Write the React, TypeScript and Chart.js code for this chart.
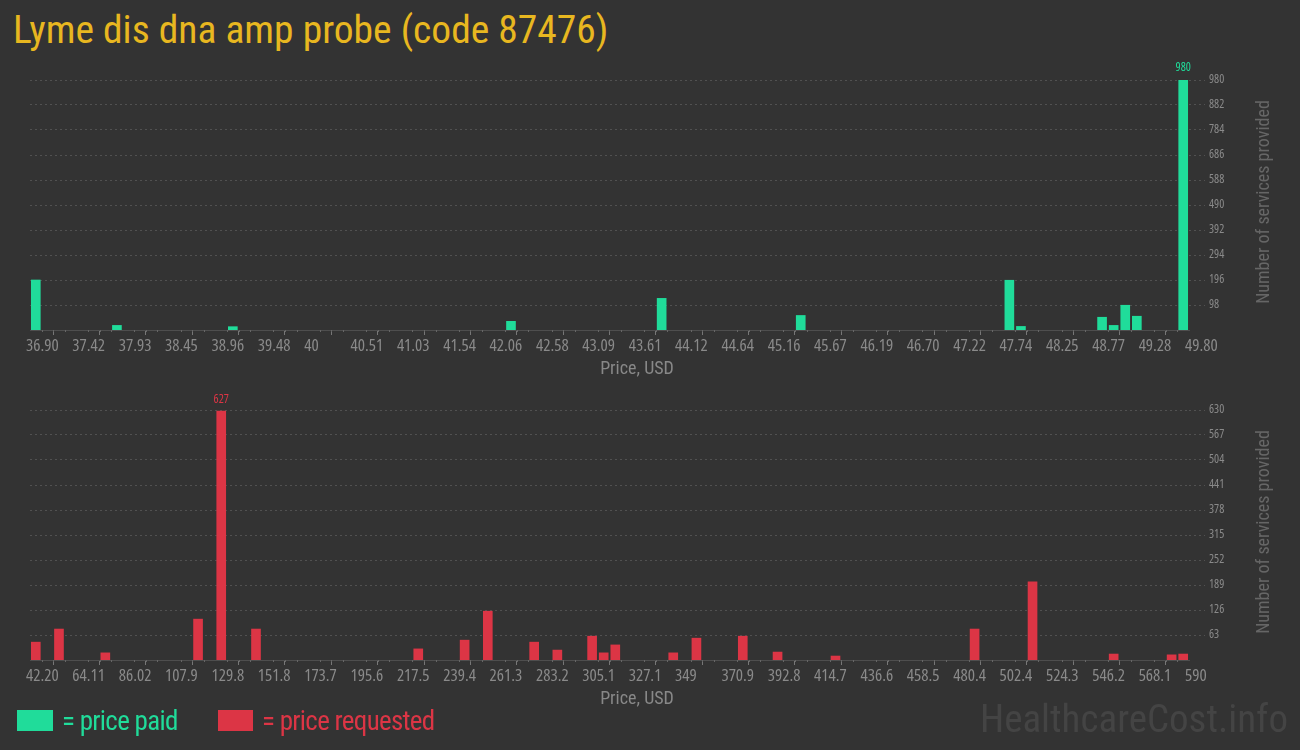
import React, { useEffect, useRef } from "react";
import { Chart, registerables } from "chart.js";
Chart.register(...registerables);

// ---- data ----
const BINS = 100; // each labelled interval holds 4 bins

const paidTickLabels = [
  "36.90", "37.42", "37.93", "38.45", "38.96", "39.48", "40", "40.51", "41.03", "41.54",
  "42.06", "42.58", "43.09", "43.61", "44.12", "44.64", "45.16", "45.67", "46.19", "46.70",
  "47.22", "47.74", "48.25", "48.77", "49.28", "49.80",
];
const paidRange = [36.9, 49.8];
const paidBinIndex = [0, 7, 17, 41, 54, 66, 84, 85, 92, 93, 94, 95, 99];
const paidCounts = [196, 18, 13, 34, 124, 57, 195, 14, 50, 18, 97, 54, 980];
const paidYTicks = [98, 196, 294, 392, 490, 588, 686, 784, 882, 980];

const requestedTickLabels = [
  "42.20", "64.11", "86.02", "107.9", "129.8", "151.8", "173.7", "195.6", "217.5", "239.4",
  "261.3", "283.2", "305.1", "327.1", "349", "370.9", "392.8", "414.7", "436.6", "458.5",
  "480.4", "502.4", "524.3", "546.2", "568.1", "590",
];
const requestedRange = [42.2, 590];
const requestedBinIndex = [0, 2, 6, 14, 16, 19, 33, 37, 39, 43, 45, 48, 49, 50, 55, 57, 61, 64, 69, 81, 86, 93, 98, 99];
const requestedCounts = [45, 78, 18, 103, 627, 78, 28, 50, 123, 45, 25, 60, 18, 38, 18, 55, 60, 20, 10, 78, 197, 15, 13, 15];
const requestedYTicks = [63, 126, 189, 252, 315, 378, 441, 504, 567, 630];

const GREEN = "#20dc9a";
const RED = "#dc3545";
const BG = "#333333";
const TICK_COLOR = "#8a8a8a";
const NARROW = "'Open Sans'";

const minorTicksPlugin = {
  id: "minorTicks",
  afterDraw(chart: any) {
    const xs = chart.scales.x;
    const ctx = chart.ctx;
    const min = xs.min;
    const bw = (xs.max - xs.min) / BINS;
    const bottom = chart.chartArea.bottom;
    ctx.save();
    ctx.strokeStyle = "#666";
    ctx.lineWidth = 1;
    for (let k = 1; k < BINS; k++) {
      if (k % 4 === 0) continue;
      const x = Math.round(xs.getPixelForValue(min + k * bw)) + 0.5;
      ctx.beginPath();
      ctx.moveTo(x, bottom);
      ctx.lineTo(x, bottom + 2);
      ctx.stroke();
    }
    ctx.restore();
  },
};

const peakLabelPlugin = {
  id: "peakLabel",
  afterDatasetsDraw(chart: any) {
    const ds = chart.data.datasets[0];
    const pts = ds.data as { x: number; y: number }[];
    let mi = 0;
    pts.forEach((p, i) => {
      if (p.y > pts[mi].y) mi = i;
    });
    const el = chart.getDatasetMeta(0).data[mi];
    const ctx = chart.ctx;
    ctx.save();
    ctx.fillStyle = ds.backgroundColor;
    ctx.font = `condensed 12px ${NARROW}`;
    ctx.textAlign = "center";
    ctx.textBaseline = "bottom";
    ctx.fillText(String(pts[mi].y), el.x, el.y - 6);
    ctx.restore();
  },
};

type HistProps = {
  binIndex: number[];
  counts: number[];
  range: number[];
  tickLabels: string[];
  yTicks: number[];
  color: string;
  top: number;
};

function Histogram({ binIndex, counts, range, tickLabels, yTicks, color, top }: HistProps) {
  const ref = useRef<HTMLCanvasElement>(null);
  useEffect(() => {
    const [min, max] = range;
    const binW = (max - min) / BINS;
    const step = (max - min) / (tickLabels.length - 1);
    const data = binIndex.map((b, i) => ({ x: min + (b + 0.5) * binW, y: counts[i] }));
    const ymax = yTicks[yTicks.length - 1];
    const chart = new Chart(ref.current!, {
      type: "bar",
      data: {
        datasets: [
          {
            data: data as any,
            backgroundColor: color,
            borderWidth: 0,
            barThickness: 9,
          },
        ],
      },
      options: {
        animation: false,
        responsive: false,
        devicePixelRatio: 1,
        layout: { padding: { left: 30, top: 20, right: 0, bottom: 0 } },
        plugins: { legend: { display: false }, tooltip: { enabled: false } },
        scales: {
          x: {
            type: "linear",
            min,
            max,
            offset: false,
            afterBuildTicks: (s: any) => {
              s.ticks = tickLabels.map((_, k) => ({ value: min + k * step }));
            },
            afterFit: (s: any) => {
              s.height = 50;
            },
            ticks: {
              autoSkip: false,
              maxRotation: 0,
              minRotation: 0,
              align: "start",
              labelOffset: -4,
              padding: 1,
              color: TICK_COLOR,
              font: { family: NARROW, weight: "condensed" as any, size: 17 },
              callback: (_v: any, i: number) => tickLabels[i],
            },
            grid: {
              drawOnChartArea: false,
              drawTicks: true,
              tickLength: 5,
              tickColor: "#777",
            },
            border: { color: "#4e4e4e", width: 1 },
          },
          y: {
            position: "right",
            min: 0,
            max: ymax,
            afterBuildTicks: (s: any) => {
              s.ticks = yTicks.map((v) => ({ value: v }));
            },
            afterFit: (s: any) => {
              s.width = 111;
            },
            ticks: {
              color: TICK_COLOR,
              padding: 4,
              font: { family: NARROW, weight: "condensed" as any, size: 12 },
              callback: (v: any) => String(v),
            },
            grid: {
              color: "#515151",
              tickLength: 16,
              tickColor: "#515151",
              tickBorderDash: [2, 3],
            },
            border: { display: false, dash: [2, 3] },
          },
        },
      },
      plugins: [minorTicksPlugin, peakLabelPlugin],
    });
    return () => chart.destroy();
  }, []);
  return (
    <canvas
      ref={ref}
      width={1300}
      height={320}
      style={{ position: "absolute", left: 0, top, width: 1300, height: 320, display: "block" }}
    />
  );
}

const condensed = "'Roboto Condensed', Roboto, sans-serif";

function AxisTexts({ top }: { top: number }) {
  return (
    <>
      <div
        style={{
          position: "absolute",
          left: 537,
          width: 200,
          top: top + 299,
          textAlign: "center",
          fontFamily: condensed,
          fontSize: 18,
          lineHeight: "18px",
          color: "#888",
          whiteSpace: "nowrap",
        }}
      >
        Price, USD
      </div>
      <div
        style={{
          position: "absolute",
          left: 1263 - 150,
          top: top + 141.5 - 10,
          width: 300,
          height: 20,
          textAlign: "center",
          fontFamily: condensed,
          fontSize: 18,
          lineHeight: "20px",
          color: "#666",
          whiteSpace: "nowrap",
          transform: "rotate(-90deg)",
          transformOrigin: "50% 50%",
        }}
      >
        Number of services provided
      </div>
    </>
  );
}

export default function App() {
  return (
    <div
      style={{
        position: "fixed",
        left: 0,
        top: 0,
        width: 1300,
        height: 750,
        background: BG,
        overflow: "hidden",
      }}
    >
      <div
        style={{
          position: "absolute",
          left: 13,
          top: 10,
          fontFamily: condensed,
          fontSize: 39.5,
          lineHeight: "40px",
          color: "#e8b720",
          whiteSpace: "nowrap",
        }}
      >
        Lyme dis dna amp probe (code 87476)
      </div>

      <Histogram
        binIndex={paidBinIndex}
        counts={paidCounts}
        range={paidRange}
        tickLabels={paidTickLabels}
        yTicks={paidYTicks}
        color={GREEN}
        top={60}
      />
      <AxisTexts top={60} />

      <Histogram
        binIndex={requestedBinIndex}
        counts={requestedCounts}
        range={requestedRange}
        tickLabels={requestedTickLabels}
        yTicks={requestedYTicks}
        color={RED}
        top={390}
      />
      <AxisTexts top={390} />

      <div style={{ position: "absolute", left: 17, top: 710, width: 36, height: 21, background: GREEN }} />
      <div
        style={{
          position: "absolute",
          left: 62,
          top: 708,
          fontFamily: condensed,
          fontSize: 27,
          letterSpacing: "-0.7px",
          lineHeight: "27px",
          color: GREEN,
          whiteSpace: "nowrap",
        }}
      >
        = price paid
      </div>
      <div style={{ position: "absolute", left: 218, top: 710, width: 35, height: 21, background: RED }} />
      <div
        style={{
          position: "absolute",
          left: 262,
          top: 708,
          fontFamily: condensed,
          fontSize: 27,
          letterSpacing: "-0.7px",
          lineHeight: "27px",
          color: RED,
          whiteSpace: "nowrap",
        }}
      >
        = price requested
      </div>

      <div
        style={{
          position: "absolute",
          right: 12,
          top: 700,
          fontFamily: condensed,
          fontSize: 39,
          lineHeight: "39px",
          color: "#444",
          whiteSpace: "nowrap",
        }}
      >
        HealthcareCost.info
      </div>
    </div>
  );
}
